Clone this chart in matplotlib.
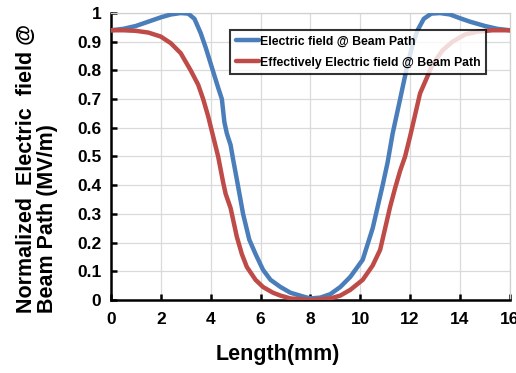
import matplotlib
matplotlib.use("Agg")
import matplotlib.pyplot as plt

plt.rcParams['font.family'] = ['Liberation Sans', 'DejaVu Sans']
plt.rcParams['font.weight'] = 'bold'

# Field along the beam path
length_e = [0, 0.5, 1.0, 1.5, 2.0, 2.4, 2.8, 3.1, 3.35, 3.6, 3.8, 4.05, 4.3, 4.45,
            4.55, 4.65, 4.8, 4.9, 5.05, 5.3, 5.55, 5.8, 6.1, 6.4, 6.8, 7.2, 7.7, 8.0,
            8.4, 8.8, 9.2, 9.6, 10.1, 10.5, 10.9, 11.1, 11.3, 11.6, 11.87, 12.1,
            12.3, 12.55, 12.85, 13.2, 13.6, 14.0, 14.4, 15.0, 15.5, 16]
field_e = [0.94, 0.945, 0.955, 0.97, 0.985, 0.995, 1.0, 0.998, 0.98, 0.93, 0.88,
           0.81, 0.74, 0.70, 0.62, 0.58, 0.54, 0.49, 0.42, 0.30, 0.21, 0.16, 0.105,
           0.07, 0.045, 0.025, 0.012, 0.005, 0.008, 0.02, 0.045, 0.08, 0.14, 0.25,
           0.40, 0.48, 0.58, 0.70, 0.81, 0.89, 0.94, 0.98, 0.998, 1.0, 0.995,
           0.982, 0.97, 0.955, 0.945, 0.94]

# Effective field along the beam path
length_eff = [0, 0.5, 1.0, 1.5, 2.0, 2.4, 2.8, 3.2, 3.5, 3.7, 3.9, 4.1, 4.3, 4.5,
              4.6, 4.8, 5.05, 5.25, 5.45, 5.8, 6.1, 6.5, 6.8, 7.2, 8.0, 8.8, 9.2,
              9.6, 10.1, 10.5, 10.8, 11.0, 11.2, 11.4, 11.6, 11.8, 12.0, 12.2, 12.4,
              12.7, 12.9, 13.3, 13.7, 14.2, 14.7, 15.3, 16]
field_eff = [0.94, 0.94, 0.938, 0.932, 0.918, 0.895, 0.86, 0.80, 0.75, 0.70, 0.64,
             0.57, 0.50, 0.41, 0.37, 0.32, 0.22, 0.16, 0.115, 0.07, 0.045, 0.025,
             0.015, 0.005, 0.0, 0.005, 0.015, 0.035, 0.07, 0.12, 0.175, 0.25, 0.325,
             0.39, 0.45, 0.50, 0.57, 0.645, 0.72, 0.78, 0.82, 0.87, 0.90, 0.925,
             0.935, 0.94, 0.94]

series_labels = ["Electric field @ Beam Path",
                 "Effectively Electric field @ Beam Path"]
x_ticks = [0, 2, 4, 6, 8, 10, 12, 14, 16]
y_ticks = [0, 0.1, 0.2, 0.3, 0.4, 0.5, 0.6, 0.7, 0.8, 0.9, 1]
y_tick_labels = ["0", "0.1", "0.2", "0.3", "0.4", "0.5", "0.6", "0.7", "0.8", "0.9", "1"]

fig = plt.figure(figsize=(5.16, 3.73), dpi=100)
ax = fig.add_axes([0.215, 0.196, 0.773, 0.769])

ax.plot(length_e, field_e, color='#4A7EBB', lw=3.2, label=series_labels[0],
        solid_capstyle='round', solid_joinstyle='round', zorder=3)
ax.plot(length_eff, field_eff, color='#BE4B48', lw=3.2, label=series_labels[1],
        solid_capstyle='round', solid_joinstyle='round', zorder=3)

ax.set_xlim(0, 16)
ax.set_ylim(0, 1)
ax.set_xticks(x_ticks)
ax.set_yticks(y_ticks)
ax.set_yticklabels(y_tick_labels)
ax.grid(True, color='#DADADA', lw=0.9)
ax.set_axisbelow(True)

for side in ('left', 'bottom'):
    ax.spines[side].set_color('black')
    ax.spines[side].set_linewidth(1.8)
for side in ('top', 'right'):
    ax.spines[side].set_color('#D0D0D0')
    ax.spines[side].set_linewidth(0.9)

ax.tick_params(direction='in', length=4, width=1.8, labelsize=12.5,
               top=False, right=False)
ax.tick_params(axis='y', pad=7)
ax.tick_params(axis='x', pad=9)
for lbl in ax.get_xticklabels() + ax.get_yticklabels():
    lbl.set_fontweight('bold')

ax.set_xlabel("Length(mm)", fontsize=15.5, fontweight='bold')
ax.xaxis.set_label_coords(0.419, -0.155)

fig.text(0.03, 0.161, "Normalized  Electric  field @\nBeam Path (MV/m)",
         rotation=90, ha='left', va='bottom', multialignment='left',
         fontsize=15.5, fontweight='bold', linespacing=1.05)

leg = ax.legend(loc='upper left', bbox_to_anchor=(0.284, 0.962), fontsize=8.8,
                frameon=True, fancybox=False, framealpha=0.8, edgecolor='black',
                handlelength=1.9, handletextpad=0.1, borderpad=0.45,
                labelspacing=0.75)
leg.get_frame().set_linewidth(1.5)
for t in leg.get_texts():
    t.set_fontweight('bold')

fig.savefig("out.png", dpi=100)
